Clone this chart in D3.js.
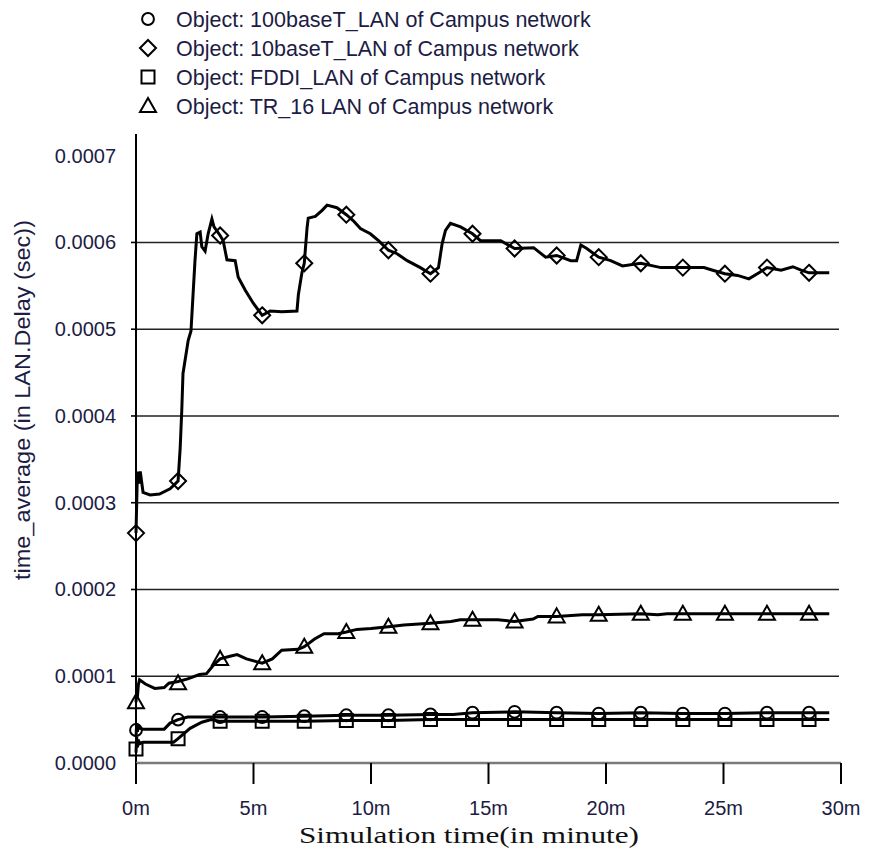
<!DOCTYPE html>
<html>
<head>
<meta charset="utf-8">
<script src="https://cdn.jsdelivr.net/npm/d3@7"></script>
<style>
body{margin:0;background:#fff}
</style>
</head>
<body>
<div id="Canvas"></div>
<script>
//時間(分鐘) 跟 延遲(秒)
let T_10baseT = [0,0.03,0.06,0.12,0.18,0.3,0.6,1,1.45,1.79,1.88,1.95,2,2.22,2.34,2.51,2.59,2.73,2.8,2.94,3.07,3.23,3.32,3.58,3.71,3.87,4.22,4.35,4.65,4.99,5.37,5.71,6.21,6.85,6.91,7.06,7.16,7.28,7.33,7.63,7.92,8.13,8.55,8.95,9.25,9.55,9.97,10.32,10.74,11.11,11.54,12.1,12.53,12.87,13.03,13.17,13.38,13.81,14.32,14.66,15.52,16.11,16.92,17.43,17.9,18.5,18.75,18.93,19.18,19.69,20.2,20.7,21.48,22.34,23.27,24.17,24.54,25.06,25.6,26.08,26.51,26.85,27.45,27.95,28.3,28.64,29.5]
let V_10baseT = [0.000265,0.0003,0.000336,0.000322,0.000336,0.000312,0.000309,0.00031,0.000316,0.000325,0.000363,0.000408,0.000449,0.000487,0.000498,0.000579,0.00061,0.000612,0.000595,0.00059,0.00061,0.000627,0.000618,0.000608,0.000602,0.00058,0.000579,0.00056,0.000545,0.00053,0.000516,0.000521,0.00052,0.000521,0.00054,0.000565,0.000576,0.000617,0.000628,0.00063,0.000637,0.000643,0.00064,0.000632,0.000625,0.000616,0.00061,0.000602,0.000591,0.000587,0.000579,0.000571,0.000564,0.000571,0.000599,0.000614,0.000622,0.000618,0.00061,0.000602,0.000602,0.000593,0.000594,0.000583,0.000585,0.000579,0.000579,0.000597,0.000593,0.000583,0.000579,0.000573,0.000576,0.000571,0.000571,0.000571,0.000568,0.000564,0.000562,0.000558,0.000565,0.000571,0.000568,0.000572,0.000568,0.000565,0.000565]

let T_TR16 = [0,0.03,0.06,0.1,0.15,0.4,0.8,1.2,1.4,1.79,2.2,2.7,3,3.3,3.58,4,4.3,4.7,5.37,5.8,6.2,6.9,7.16,7.6,8,8.6,8.95,9.4,10,10.74,11.4,12.53,13.4,13.8,14.32,15.4,16.11,16.9,17.1,17.9,19,19.69,21.48,22.2,22.6,23.27,25.06,26.85,28.64,29.5]
let V_TR16 = [0.00007,0.000082,0.000076,0.00009,0.000096,0.000091,0.000086,0.000087,0.000092,0.000094,0.000097,0.000102,0.000103,0.000113,0.00012,0.000123,0.000125,0.00012,0.000115,0.00012,0.00013,0.000131,0.000134,0.000143,0.000149,0.000149,0.000151,0.000154,0.000155,0.000157,0.000159,0.000161,0.000163,0.000165,0.000165,0.000165,0.000163,0.000166,0.000169,0.000169,0.000171,0.000171,0.000172,0.000171,0.000172,0.000172,0.000172,0.000172,0.000172,0.000172]

let T_100baseT = [0,0.03,0.06,0.1,0.15,0.3,1.2,1.45,1.79,2.2,2.7,3.58,5.37,7.16,8.95,10.74,12.53,13.5,14.32,16.11,17.9,19.69,21.48,23.27,25.06,26.85,28.64,29.5]
let V_100baseT = [0.00003,0.000046,0.000036,0.000044,0.00004,0.000039,0.000039,0.000046,0.00005,0.000053,0.000053,0.000053,0.000053,0.000054,0.000055,0.000055,0.000056,0.000056,0.000058,0.000059,0.000058,0.000057,0.000058,0.000057,0.000057,0.000058,0.000058,0.000058]

let T_FDDI = [0,0.03,0.06,0.1,0.15,0.3,1.6,1.79,2.3,2.8,3.2,3.58,5.37,7.16,8.95,10.74,12.53,14.32,16.11,17.9,19.69,21.48,23.27,25.06,26.85,28.64,29.5]
let V_FDDI = [0.000012,0.00003,0.000018,0.000027,0.000022,0.000024,0.000024,0.000028,0.00004,0.000047,0.00005,0.000048,0.000048,0.000048,0.000049,0.000049,0.00005,0.00005,0.00005,0.00005,0.00005,0.00005,0.00005,0.00005,0.00005,0.00005,0.00005]

//標記點的時間 跟 各線在標記點的值
let Marker_Time = [0,1.79,3.58,5.37,7.16,8.95,10.74,12.53,14.32,16.11,17.9,19.69,21.48,23.27,25.06,26.85,28.64]
let M_10baseT = [0.000265,0.000325,0.000608,0.000516,0.000576,0.000632,0.000591,0.000564,0.00061,0.000593,0.000585,0.000583,0.000576,0.000571,0.000564,0.000571,0.000565]
let M_TR16 = [0.00007,0.000092,0.00012,0.000115,0.000134,0.000151,0.000157,0.000161,0.000165,0.000163,0.000169,0.000171,0.000172,0.000172,0.000172,0.000172,0.000172]
let M_100baseT = [0.000038,0.00005,0.000053,0.000053,0.000054,0.000055,0.000055,0.000056,0.000058,0.000059,0.000058,0.000057,0.000058,0.000057,0.000057,0.000058,0.000058]
let M_FDDI = [0.000016,0.000028,0.000048,0.000048,0.000048,0.000049,0.000049,0.00005,0.00005,0.00005,0.00005,0.00005,0.00005,0.00005,0.00005,0.00005,0.00005]

let Y_Ticks = [0,0.0001,0.0002,0.0003,0.0004,0.0005,0.0006,0.0007]
let X_Ticks = [0,5,10,15,20,25,30]
let Legend_Label = ["Object: 100baseT_LAN of Campus network","Object: 10baseT_LAN of Campus network","Object: FDDI_LAN of Campus network","Object: TR_16 LAN of Campus network"]
let Legend_Shape = ["circle","diamond","square","triangle"]

let Series = [
    {shape : "diamond" , t : T_10baseT , v : V_10baseT , m : M_10baseT},
    {shape : "triangle" , t : T_TR16 , v : V_TR16 , m : M_TR16},
    {shape : "square" , t : T_FDDI , v : V_FDDI , m : M_FDDI},
    {shape : "circle" , t : T_100baseT , v : V_100baseT , m : M_100baseT}
]

let svg = d3.select("#Canvas")
    .append("svg")
    .attr("width" , 869)
    .attr("height" , 850)

let xScale = d3.scaleLinear()
    .domain([0,30])
    .range([136,841])
let yScale = d3.scaleLinear()
    .domain([0,0.000725])
    .range([763,134])

let textColor = "#1c1c44"
let sansFont = "Arial, 'Liberation Sans', sans-serif"

//標記形狀
function Marker_Path(shape){
    if(shape == "diamond") return "M0,-8L8,0L0,8L-8,0Z"
    if(shape == "square") return "M-6.5,-6.5H6.5V6.5H-6.5Z"
    if(shape == "triangle") return "M0,-8L8,6H-8Z"
    return d3.symbol().type(d3.symbolCircle).size(110)()
}

//格線
svg.append("g")
    .selectAll("line")
    .data(Y_Ticks.filter(d => d > 0 && d < 0.00065))
    .enter()
    .append("line")
    .attr("x1" , xScale(0))
    .attr("x2" , 839)
    .attr("y1" , d => yScale(d))
    .attr("y2" , d => yScale(d))
    .style("stroke" , "#222")
    .style("stroke-width" , 1.6)

//y軸
svg.append("line")
    .attr("x1" , xScale(0)).attr("x2" , xScale(0))
    .attr("y1" , 134).attr("y2" , yScale(0))
    .style("stroke" , "#000").style("stroke-width" , 2)
svg.append("g")
    .selectAll("line")
    .data(Y_Ticks.filter(d => d > 0 && d < 0.00065))
    .enter()
    .append("line")
    .attr("x1" , xScale(0) - 5).attr("x2" , xScale(0))
    .attr("y1" , d => yScale(d)).attr("y2" , d => yScale(d))
    .style("stroke" , "#000").style("stroke-width" , 1.6)
svg.append("g")
    .selectAll("text")
    .data(Y_Ticks)
    .enter()
    .append("text")
    .attr("x" , 116)
    .attr("y" , d => yScale(d))
    .attr("dy" , "0.35em")
    .attr("text-anchor" , "end")
    .style("font-family" , sansFont)
    .style("font-size" , "20px")
    .style("fill" , textColor)
    .text(d => d.toFixed(4))

//x軸
svg.append("line")
    .attr("x1" , xScale(0)).attr("x2" , xScale(30))
    .attr("y1" , yScale(0)).attr("y2" , yScale(0))
    .style("stroke" , "#7a7a7a").style("stroke-width" , 2.5)
svg.append("g")
    .selectAll("line")
    .data(X_Ticks)
    .enter()
    .append("line")
    .attr("x1" , d => xScale(d)).attr("x2" , d => xScale(d))
    .attr("y1" , yScale(0)).attr("y2" , yScale(0) + 21)
    .style("stroke" , "#000").style("stroke-width" , 2)
svg.append("g")
    .selectAll("text")
    .data(X_Ticks)
    .enter()
    .append("text")
    .attr("x" , d => xScale(d))
    .attr("y" , 815)
    .attr("text-anchor" , "middle")
    .style("font-family" , sansFont)
    .style("font-size" , "20px")
    .style("fill" , textColor)
    .text(d => d + "m")

//軸標題
svg.append("text")
    .attr("x" , 299)
    .attr("y" , 843)
    .attr("textLength" , 340)
    .attr("lengthAdjust" , "spacingAndGlyphs")
    .style("font-family" , "'Liberation Serif', 'Times New Roman', serif")
    .style("font-size" , "23px")
    .style("fill" , "#111")
    .text("Simulation time(in minute)")
svg.append("text")
    .attr("transform" , "translate(22,400) rotate(-90)")
    .attr("x" , -180)
    .attr("dy" , "0.35em")
    .attr("textLength" , 360)
    .attr("lengthAdjust" , "spacingAndGlyphs")
    .style("font-family" , sansFont)
    .style("font-size" , "22px")
    .style("fill" , textColor)
    .text("time_average (in LAN.Delay (sec))")

//畫線
let Line = d3.line()
    .x(d => xScale(d[0]))
    .y(d => yScale(d[1]))
Series.forEach(s => {
    let pts = s.t.map((t,i) => [t , s.v[i]])
    svg.append("path")
        .attr("d" , Line(pts))
        .style("fill" , "none")
        .style("stroke" , "#000")
        .style("stroke-width" , 3)
})
//標記
Series.forEach(s => {
    svg.append("g")
        .selectAll("path")
        .data(Marker_Time.map((t,i) => [t , s.m[i]]))
        .enter()
        .append("path")
        .attr("transform" , d => "translate(" + xScale(d[0]) + "," + yScale(d[1]) + ")")
        .attr("d" , Marker_Path(s.shape))
        .style("fill" , "none")
        .style("stroke" , "#000")
        .style("stroke-width" , 2)
})

//圖例
let Legend = svg.append("g")
    .selectAll("g")
    .data(Legend_Label)
    .enter()
    .append("g")
    .attr("transform" , (d,i) => "translate(0," + (19 + i * 29) + ")")
Legend.append("path")
    .attr("transform" , "translate(148,0)")
    .attr("d" , (d,i) => Marker_Path(Legend_Shape[i]))
    .style("fill" , "none")
    .style("stroke" , "#000")
    .style("stroke-width" , 2)
Legend.append("text")
    .attr("x" , 176)
    .attr("dy" , "0.35em")
    .style("font-family" , sansFont)
    .style("font-size" , "21.5px")
    .style("fill" , textColor)
    .text(d => d)
</script>
</body>
</html>
